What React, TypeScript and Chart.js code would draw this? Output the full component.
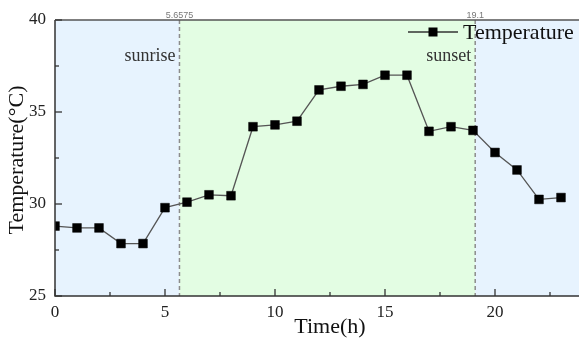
import React, { useEffect, useRef } from "react";
import { Chart, registerables } from "chart.js";

Chart.register(...registerables);

const hours = [0, 1, 2, 3, 4, 5, 6, 7, 8, 9, 10, 11, 12, 13, 14, 15, 16, 17, 18, 19, 20, 21, 22, 23];
const temperature = [
  28.8, 28.7, 28.7, 27.85, 27.85, 29.8, 30.1, 30.5, 30.45, 34.2, 34.3, 34.5,
  36.2, 36.4, 36.5, 37.0, 37.0, 33.95, 34.2, 34.0, 32.8, 31.85, 30.25, 30.35,
];
const xMajorTicks = [0, 5, 10, 15, 20];
const xMinorTicks = [2.5, 7.5, 12.5, 17.5, 22.5];
const yMajorTicks = [25, 30, 35, 40];
const yMinorTicks = [27.5, 32.5, 37.5];
const xRange = [0, 24];
const yRange = [25, 40];
const sunriseHour = 5.6575;
const sunsetHour = 19.1;
const markerLabels = ["5.6575", "19.1"];
const eventLabels = ["sunrise", "sunset"];
const nightBefore = [0, sunriseHour];
const daytime = [sunriseHour, sunsetHour];
const nightAfter = [sunsetHour, 24];
const seriesName = "Temperature";
const xTitle = "Time(h)";
const yTitle = "Temperature(°C)";

const NIGHT_COLOR = "#e7f3fe";
const DAY_COLOR = "#e3fde3";
const SERIF = "'Liberation Serif', 'Times New Roman', serif";

const customPlugin = {
  id: "customDecor",
  beforeDatasetsDraw(chart: any) {
    const { ctx, chartArea: a, scales } = chart;
    const x = scales.x;
    ctx.save();
    const bands: [number[], string][] = [
      [nightBefore, NIGHT_COLOR],
      [daytime, DAY_COLOR],
      [nightAfter, NIGHT_COLOR],
    ];
    for (const [r, c] of bands) {
      const x0 = x.getPixelForValue(r[0]);
      const x1 = x.getPixelForValue(r[1]);
      ctx.fillStyle = c;
      ctx.fillRect(x0, a.top, x1 - x0, a.bottom - a.top);
    }
    ctx.setLineDash([4, 3]);
    ctx.strokeStyle = "#8c8c8c";
    ctx.lineWidth = 1.5;
    for (const h of [sunriseHour, sunsetHour]) {
      const px = x.getPixelForValue(h);
      ctx.beginPath();
      ctx.moveTo(px, a.top);
      ctx.lineTo(px, a.bottom);
      ctx.stroke();
    }
    ctx.restore();
  },
  afterDatasetsDraw(chart: any) {
    const { ctx, chartArea: a, scales } = chart;
    const x = scales.x;
    const y = scales.y;
    ctx.save();
    ctx.strokeStyle = "#333";
    ctx.lineWidth = 1.5;
    ctx.beginPath();
    ctx.moveTo(a.left, a.top);
    ctx.lineTo(a.left, a.bottom);
    ctx.lineTo(a.right, a.bottom);
    ctx.stroke();
    ctx.strokeStyle = "#555";
    ctx.beginPath();
    ctx.moveTo(a.left, a.top);
    ctx.lineTo(a.right, a.top);
    ctx.stroke();
    ctx.strokeStyle = "#333";
    ctx.lineWidth = 1.3;
    const tick = (vals: number[], len: number, horiz: boolean) => {
      for (const v of vals) {
        ctx.beginPath();
        if (horiz) {
          const px = x.getPixelForValue(v);
          ctx.moveTo(px, a.bottom);
          ctx.lineTo(px, a.bottom - len);
        } else {
          const py = y.getPixelForValue(v);
          ctx.moveTo(a.left, py);
          ctx.lineTo(a.left + len, py);
        }
        ctx.stroke();
      }
    };
    tick(xMajorTicks, 7, true);
    tick(xMinorTicks, 4, true);
    tick(yMajorTicks, 7, false);
    tick(yMinorTicks, 4, false);

    ctx.fillStyle = "#777";
    ctx.font = "9px 'Liberation Sans', sans-serif";
    ctx.textAlign = "center";
    ctx.textBaseline = "alphabetic";
    [sunriseHour, sunsetHour].forEach((h, i) => {
      ctx.fillText(markerLabels[i], x.getPixelForValue(h), a.top - 2);
    });
    ctx.fillStyle = "#333";
    ctx.font = `18px ${SERIF}`;
    ctx.textAlign = "right";
    [sunriseHour, sunsetHour].forEach((h, i) => {
      ctx.fillText(eventLabels[i], x.getPixelForValue(h) - 4, 61);
    });

    ctx.strokeStyle = "#333";
    ctx.lineWidth = 1.3;
    ctx.setLineDash([]);
    ctx.beginPath();
    ctx.moveTo(408, 32);
    ctx.lineTo(458, 32);
    ctx.stroke();
    ctx.fillStyle = "#000";
    ctx.fillRect(433 - 4.5, 32 - 4.5, 9, 9);
    ctx.fillStyle = "#111";
    ctx.font = `22px ${SERIF}`;
    ctx.textAlign = "left";
    ctx.textBaseline = "middle";
    ctx.fillText(seriesName, 463, 33);

    ctx.fillStyle = "#111";
    ctx.textAlign = "center";
    ctx.textBaseline = "middle";
    ctx.fillText(xTitle, 330, 327);
    ctx.save();
    ctx.translate(17, (a.top + a.bottom) / 2 + 2);
    ctx.rotate(-Math.PI / 2);
    ctx.fillText(yTitle, 0, 0);
    ctx.restore();
    ctx.restore();
  },
};

export default function App() {
  const ref = useRef<HTMLCanvasElement | null>(null);
  useEffect(() => {
    if (!ref.current) return;
    const chart = new Chart(ref.current, {
      type: "line",
      data: {
        datasets: [
          {
            label: seriesName,
            data: hours.map((h, i) => ({ x: h, y: temperature[i] })),
            borderColor: "#555",
            borderWidth: 1.3,
            pointStyle: "rect",
            pointRadius: 6.2,
            pointBackgroundColor: "#000",
            pointBorderColor: "#000",
            pointBorderWidth: 0.5,
            tension: 0,
          },
        ],
      },
      options: {
        animation: false,
        responsive: false,
        layout: { autoPadding: false, padding: { top: 20, left: 0, right: 0, bottom: 0 } },
        plugins: { legend: { display: false }, tooltip: { enabled: false } },
        scales: {
          x: {
            type: "linear",
            min: xRange[0],
            max: xRange[1],
            grid: { display: false, drawTicks: false },
            border: { display: false },
            ticks: {
              stepSize: 5,
              includeBounds: false,
              padding: 6,
              color: "#222",
              font: { family: SERIF, size: 17 },
              maxRotation: 0,
            },
            afterFit: (s: any) => {
              s.height = 42;
            },
          },
          y: {
            min: yRange[0],
            max: yRange[1],
            grid: { display: false, drawTicks: false },
            border: { display: false },
            ticks: {
              stepSize: 5,
              padding: 9,
              color: "#222",
              font: { family: SERIF, size: 17 },
            },
            afterFit: (s: any) => {
              s.width = 55;
            },
          },
        },
      },
      plugins: [customPlugin],
    } as any);
    return () => chart.destroy();
  }, []);
  return (
    <div style={{ position: "absolute", left: 0, top: 0, width: 579, height: 338, overflow: "hidden" }}>
      <canvas ref={ref} width={583} height={338} style={{ display: "block" }} />
    </div>
  );
}
